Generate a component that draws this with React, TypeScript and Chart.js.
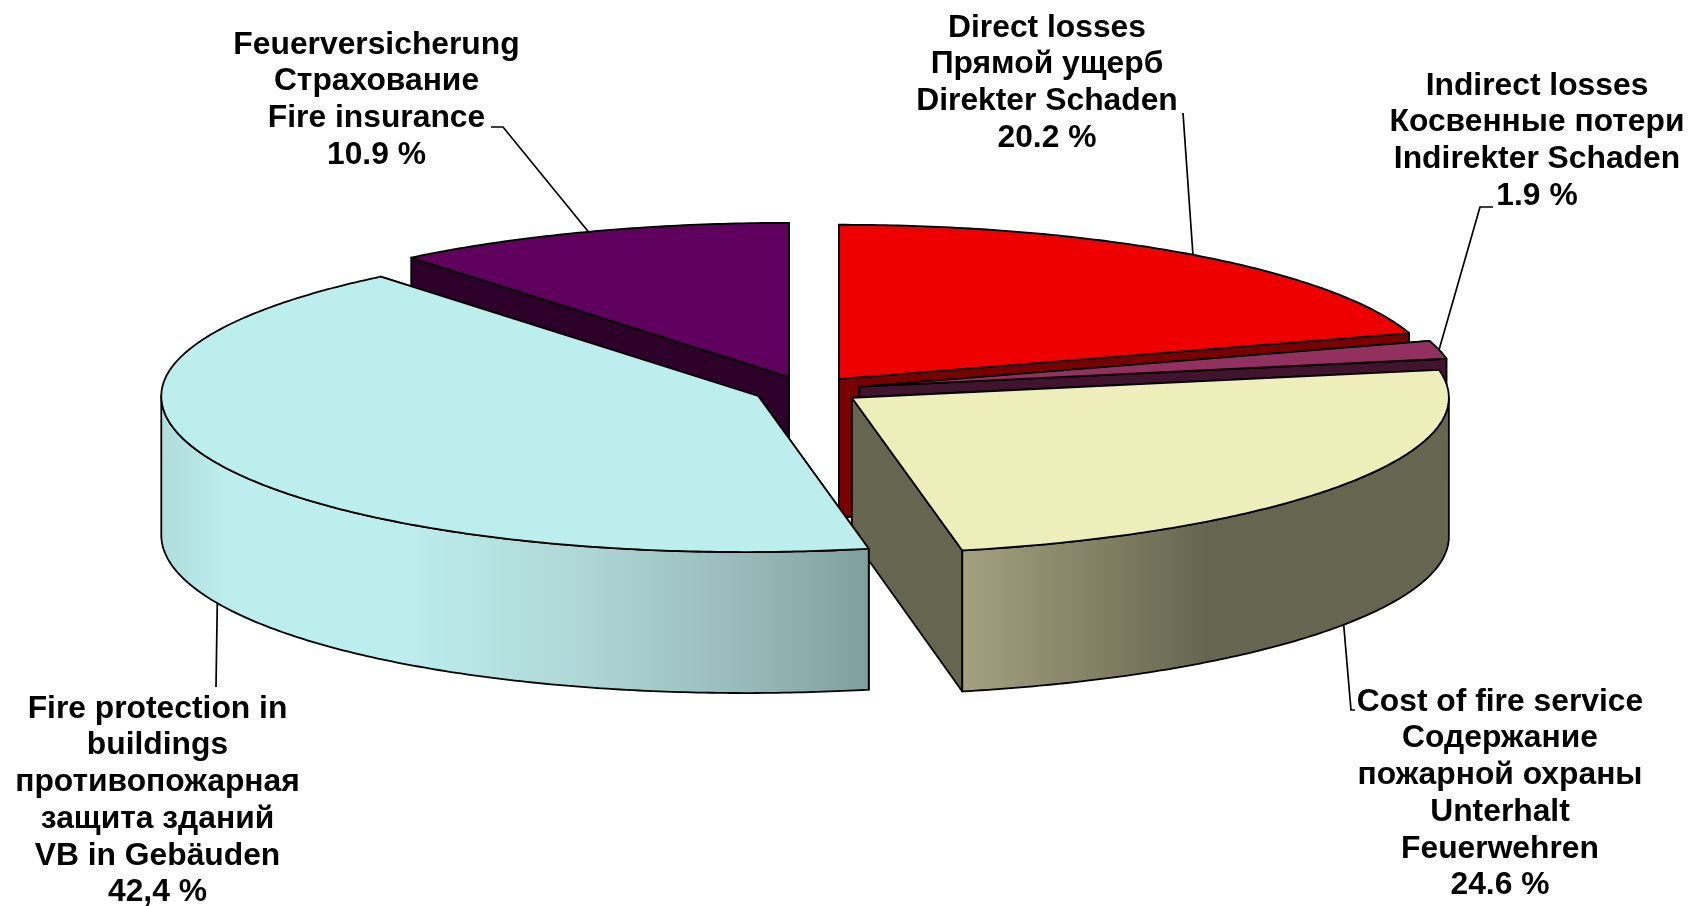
import React, { useEffect, useRef } from "react";
import { Chart, registerables } from "chart.js";

Chart.register(...registerables);

const sliceNames = ["Direct losses", "Indirect losses", "Cost of fire service", "Fire protection in buildings", "Fire insurance"];
const shares = [20.2, 1.9, 24.6, 42.4, 10.9];
const directLabel = ["Direct losses", "Прямой ущерб", "Direkter Schaden", "20.2 %"];
const indirectLabel = ["Indirect losses", "Косвенные потери", "Indirekter Schaden", "1.9 %"];
const serviceLabel = ["Cost of fire service", "Содержание", "пожарной охраны", "Unterhalt", "Feuerwehren", "24.6 %"];
const protectionLabel = ["Fire protection in", "buildings", "противопожарная", "защита зданий", "VB in Gebäuden", "42,4 %"];
const insuranceLabel = ["Feuerversicherung", "Страхование", "Fire insurance", "10.9 %"];
const topColors = ["#ee0000", "#92305f", "#eeeebb", "#bdeeee", "#5f005f"];
const wallColors = ["#780000", "#42132e", "#666650", "#666650", "#2c0028"];

const labelLines = [directLabel, indirectLabel, serviceLabel, protectionLabel, insuranceLabel];
const labelCentres = [
  { x: 1047, y: 28 },
  { x: 1537, y: 86 },
  { x: 1500, y: 702 },
  { x: 157.5, y: 709 },
  { x: 376.5, y: 45 },
];
// the label-side part of each leader line, ending where it meets the slice rim
const leaderKnees = [
  [{ x: 1183, y: 113 }],
  [{ x: 1493, y: 207 }, { x: 1480, y: 207 }],
  [{ x: 1355, y: 710 }, { x: 1351, y: 710 }],
  [{ x: 216, y: 687 }],
  [{ x: 491, y: 127 }, { x: 503, y: 127 }],
];
const paintOrder = [4, 0, 1, 2, 3];

const SQUASH = 0.258;
const DEPTH = 139;
const FRONT_DEPTH = 2;
const FRONT_DROP = 2;
const RADIUS = 597;
const EXPLODE = 54;
const FONT = 'bold 31.8px "Liberation Sans", Arial, sans-serif';
const LINE_GAP = 36.7;

function project(arc: any, angle: number, r: number, z = 0) {
  const mid = (arc.startAngle + arc.endAngle) / 2;
  const off = arc.options.offset;
  const s = Math.max(0, Math.sin(angle));
  const f = r / arc.outerRadius;
  return {
    x: arc.x + Math.cos(mid) * off + r * Math.cos(angle) - 13 * f * s * s,
    y:
      arc.y +
      SQUASH * Math.sin(mid) * off +
      SQUASH * r * Math.sin(angle) +
      FRONT_DROP * f * s +
      (z ? z + FRONT_DEPTH * f * s : 0),
  };
}

function rimPoints(arc: any, from: number, to: number, z: number) {
  const n = Math.max(2, Math.ceil(Math.abs(to - from) * 90));
  const pts = [];
  for (let i = 0; i <= n; i++) pts.push(project(arc, from + ((to - from) * i) / n, arc.outerRadius, z));
  return pts;
}

function fillPoly(ctx: CanvasRenderingContext2D, pts: any[], fill: any) {
  ctx.beginPath();
  pts.forEach((p, i) => (i ? ctx.lineTo(p.x, p.y) : ctx.moveTo(p.x, p.y)));
  ctx.closePath();
  ctx.fillStyle = fill;
  ctx.fill();
  ctx.stroke();
}

function wallFill(ctx: CanvasRenderingContext2D, index: number, pts: any[]) {
  const xs = pts.map((p) => p.x);
  const g = ctx.createLinearGradient(Math.min(...xs), 0, Math.max(...xs), 0);
  if (index === 2) {
    g.addColorStop(0, "#a5a17f");
    g.addColorStop(0.5, "#666650");
    g.addColorStop(1, "#666650");
    return g;
  }
  if (index === 3) {
    g.addColorStop(0, "#b0dcdc");
    g.addColorStop(0.1, "#bdeeee");
    g.addColorStop(0.33, "#bdeeee");
    g.addColorStop(0.6, "#aed6d6");
    g.addColorStop(0.85, "#96b6b6");
    g.addColorStop(1, "#7f9f9f");
    return g;
  }
  return wallColors[index];
}

const extrudedPie = {
  id: "extrudedPie",
  beforeDatasetDraw(chart: any) {
    const ctx: CanvasRenderingContext2D = chart.ctx;
    const arcs = chart.getDatasetMeta(0).data;
    ctx.save();
    ctx.strokeStyle = "#000";
    ctx.lineWidth = 1.8;
    ctx.lineJoin = "round";
    paintOrder.forEach((i) => {
      const arc = arcs[i];
      const { startAngle: a0, endAngle: a1, outerRadius: R } = arc;
      [a0, a1].forEach((a) => {
        fillPoly(
          ctx,
          [project(arc, a, 0), project(arc, a, R), project(arc, a, R, DEPTH), project(arc, a, 0, DEPTH)],
          wallColors[i]
        );
      });
      const from = Math.max(a0, 0);
      const to = Math.min(a1, Math.PI);
      if (to > from) {
        const wall = [...rimPoints(arc, from, to, 0), ...rimPoints(arc, to, from, DEPTH)];
        fillPoly(ctx, wall, wallFill(ctx, i, wall));
      }
      fillPoly(ctx, [project(arc, a0, 0), ...rimPoints(arc, a0, a1, 0)], arc.options.backgroundColor);
    });
    ctx.restore();
    return false;
  },
  afterDraw(chart: any) {
    const ctx: CanvasRenderingContext2D = chart.ctx;
    const arcs = chart.getDatasetMeta(0).data;
    ctx.save();
    ctx.strokeStyle = "#000";
    ctx.lineWidth = 1.7;
    arcs.forEach((arc: any, i: number) => {
      const mid = (arc.startAngle + arc.endAngle) / 2;
      const end = project(arc, mid, arc.outerRadius, Math.sin(mid) > 0 ? DEPTH : 0);
      const pts = [...leaderKnees[i], end];
      ctx.beginPath();
      pts.forEach((p, k) => (k ? ctx.lineTo(p.x, p.y) : ctx.moveTo(p.x, p.y)));
      ctx.stroke();
    });
    ctx.fillStyle = "#000";
    ctx.font = FONT;
    ctx.textAlign = "center";
    ctx.textBaseline = "middle";
    labelLines.forEach((lines, i) => {
      lines.forEach((line, k) => ctx.fillText(line, labelCentres[i].x, labelCentres[i].y + k * LINE_GAP));
    });
    ctx.restore();
  },
};

export default function App() {
  const ref = useRef<HTMLCanvasElement>(null);
  useEffect(() => {
    const chart = new Chart(ref.current as HTMLCanvasElement, {
      type: "pie",
      data: {
        labels: sliceNames,
        datasets: [{ data: shares, backgroundColor: topColors, offset: EXPLODE, radius: RADIUS, borderWidth: 0 }],
      },
      options: {
        animation: false,
        responsive: false,
        devicePixelRatio: 1,
        layout: { padding: { right: 78, bottom: 126 } },
        plugins: { legend: { display: false }, tooltip: { enabled: false } },
      },
      plugins: [extrudedPie],
    } as any);
    return () => chart.destroy();
  }, []);
  return (
    <div style={{ position: "absolute", left: 0, top: 0, width: 1692, height: 906, background: "#fff" }}>
      <canvas ref={ref} width={1692} height={906} style={{ display: "block" }} />
    </div>
  );
}
